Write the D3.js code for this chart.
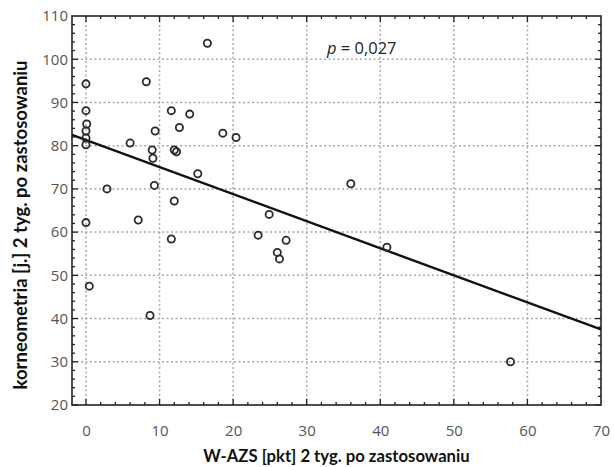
<!DOCTYPE html>
<html>
<head>
<meta charset="utf-8">
<script src="https://cdn.jsdelivr.net/npm/d3@7"></script>
<style>
  body { margin: 0; background: #fff; }
  svg text { font-family: "Open Sans", sans-serif; }
</style>
</head>
<body>
<div id="chart"></div>
<script>
// W-AZS [pkt] vs korneometria [j.], 2 weeks after use
waz = [0, 0, 0.1, 0, 0, 0, 0, 0.45, 2.85, 6.0, 8.2, 16.5, 9.4, 9.0, 9.1, 11.6, 12.7, 14.1,
       12.0, 12.3, 18.6, 20.4, 15.2, 9.3, 12.0, 7.1, 11.6, 8.7, 36.0, 24.9, 23.4, 27.2, 26.0, 26.3, 40.9, 57.7]
korneo = [94.3, 88.1, 85.0, 83.4, 81.8, 80.2, 62.2, 47.5, 70.0, 80.6, 94.8, 103.7, 83.4, 79.0, 77.1, 88.1, 84.2, 87.3,
          79.0, 78.6, 82.9, 81.9, 73.5, 70.8, 67.2, 62.8, 58.4, 40.7, 71.2, 64.1, 59.3, 58.1, 55.3, 53.8, 56.5, 30.0]
xTicks = [0, 10, 20, 30, 40, 50, 60, 70]
yTicks = [20, 30, 40, 50, 60, 70, 80, 90, 100, 110]
fitIntercept = 81.3
fitSlope = -0.626
pLabel = "0,027"

width = 614
height = 467
margin = ({top: 16, right: 13, bottom: 62, left: 72})

x = d3.scaleLinear().domain([-1.9, 70]).range([margin.left, width - margin.right])
y = d3.scaleLinear().domain([20, 110]).range([height - margin.bottom, margin.top])

svg = d3.select("#chart").append("svg")
  .attr("width", width)
  .attr("height", height)

// dotted grid
gridLayer = svg.append("g")
gridLayer.selectAll("line.gx").data(xTicks.slice(0, -1)).enter().append("line")
  .attr("class", "gx")
  .attr("x1", d => x(d)).attr("x2", d => x(d))
  .attr("y1", y(20)).attr("y2", y(110))
gridLayer.selectAll("line.gy").data(yTicks.slice(1, -1)).enter().append("line")
  .attr("class", "gy")
  .attr("x1", x.range()[0]).attr("x2", x.range()[1])
  .attr("y1", d => y(d)).attr("y2", d => y(d))
gridLayer.selectAll("line")
  .style("stroke", "#a8a8a8")
  .style("stroke-width", "1.5px")
  .style("stroke-dasharray", "2,2.5")

// minor/major ticks on all four sides, pointing inward
minorX = d3.range(0, 70, 2)
minorY = d3.range(20, 110, 2)
ticks = svg.append("g").attr("stroke", "#222").attr("stroke-width", 1.3)
;[y(20), y(110)].forEach((yy, k) => {
  const dir = k === 0 ? -1 : 1
  ticks.append("g").selectAll("line").data(minorX).enter().append("line")
    .attr("x1", d => x(d)).attr("x2", d => x(d))
    .attr("y1", yy).attr("y2", d => yy + dir * (d % 10 === 0 ? 6 : 3))
})
;[x.range()[0], x.range()[1]].forEach((xx, k) => {
  const dir = k === 0 ? 1 : -1
  ticks.append("g").selectAll("line").data(minorY).enter().append("line")
    .attr("y1", d => y(d)).attr("y2", d => y(d))
    .attr("x1", xx).attr("x2", d => xx + dir * (d % 10 === 0 ? 6 : 3))
})

// frame
svg.append("rect")
  .attr("x", x.range()[0]).attr("y", y(110))
  .attr("width", x.range()[1] - x.range()[0])
  .attr("height", y(20) - y(110))
  .attr("fill", "none").attr("stroke", "#222").attr("stroke-width", 1.6)

// tick labels
xAxis = d3.axisBottom(x).tickValues(xTicks).tickSize(0).tickPadding(20)
svg.append("g")
  .attr("transform", `translate(0,${y(20)})`)
  .call(xAxis)
  .call(g => g.select(".domain").remove())
  .selectAll("text")
  .style("font-size", "15px").style("font-family", "'Open Sans', sans-serif")
  .attr("fill", "#555")

yAxis = d3.axisLeft(y).tickValues(yTicks).tickSize(0).tickPadding(4)
svg.append("g")
  .attr("transform", `translate(${x.range()[0]},0)`)
  .call(yAxis)
  .call(g => g.select(".domain").remove())
  .selectAll("text")
  .style("font-size", "15px").style("font-family", "'Open Sans', sans-serif")
  .attr("fill", "#555")

// regression line
svg.append("line")
  .attr("x1", x(-1.9)).attr("y1", y(fitIntercept + fitSlope * -1.9))
  .attr("x2", x(70)).attr("y2", y(fitIntercept + fitSlope * 70))
  .attr("stroke", "#111").attr("stroke-width", 2.4)

// points
svg.append("g").selectAll("circle").data(waz).enter().append("circle")
  .attr("cx", d => x(d))
  .attr("cy", (d, i) => y(korneo[i]))
  .attr("r", 3.6)
  .attr("fill", "none")
  .attr("stroke", "#2a2a2a")
  .attr("stroke-width", 1.8)

// p-value
pText = svg.append("text")
  .attr("x", 327).attr("y", 54)
  .style("font-size", "16.5px").attr("fill", "#222")
pText.append("tspan").style("font-style", "italic").text("p")
pText.append("tspan").text(" = " + pLabel)

// axis titles
svg.append("text")
  .attr("x", (x.range()[0] + x.range()[1]) / 2).attr("y", 462)
  .attr("text-anchor", "middle")
  .style("font-family", "Lato, sans-serif")
  .style("font-size", "16.7px").style("font-weight", "bold").attr("fill", "#111")
  .text("W-AZS [pkt] 2 tyg. po zastosowaniu")

svg.append("text")
  .attr("transform", `translate(27,225) rotate(-90)`)
  .attr("text-anchor", "middle")
  .style("font-family", "Lato, sans-serif")
  .style("font-size", "18.5px").style("font-weight", "bold").attr("fill", "#111")
  .text("korneometria [j.] 2 tyg. po zastosowaniu")
</script>
</body>
</html>
